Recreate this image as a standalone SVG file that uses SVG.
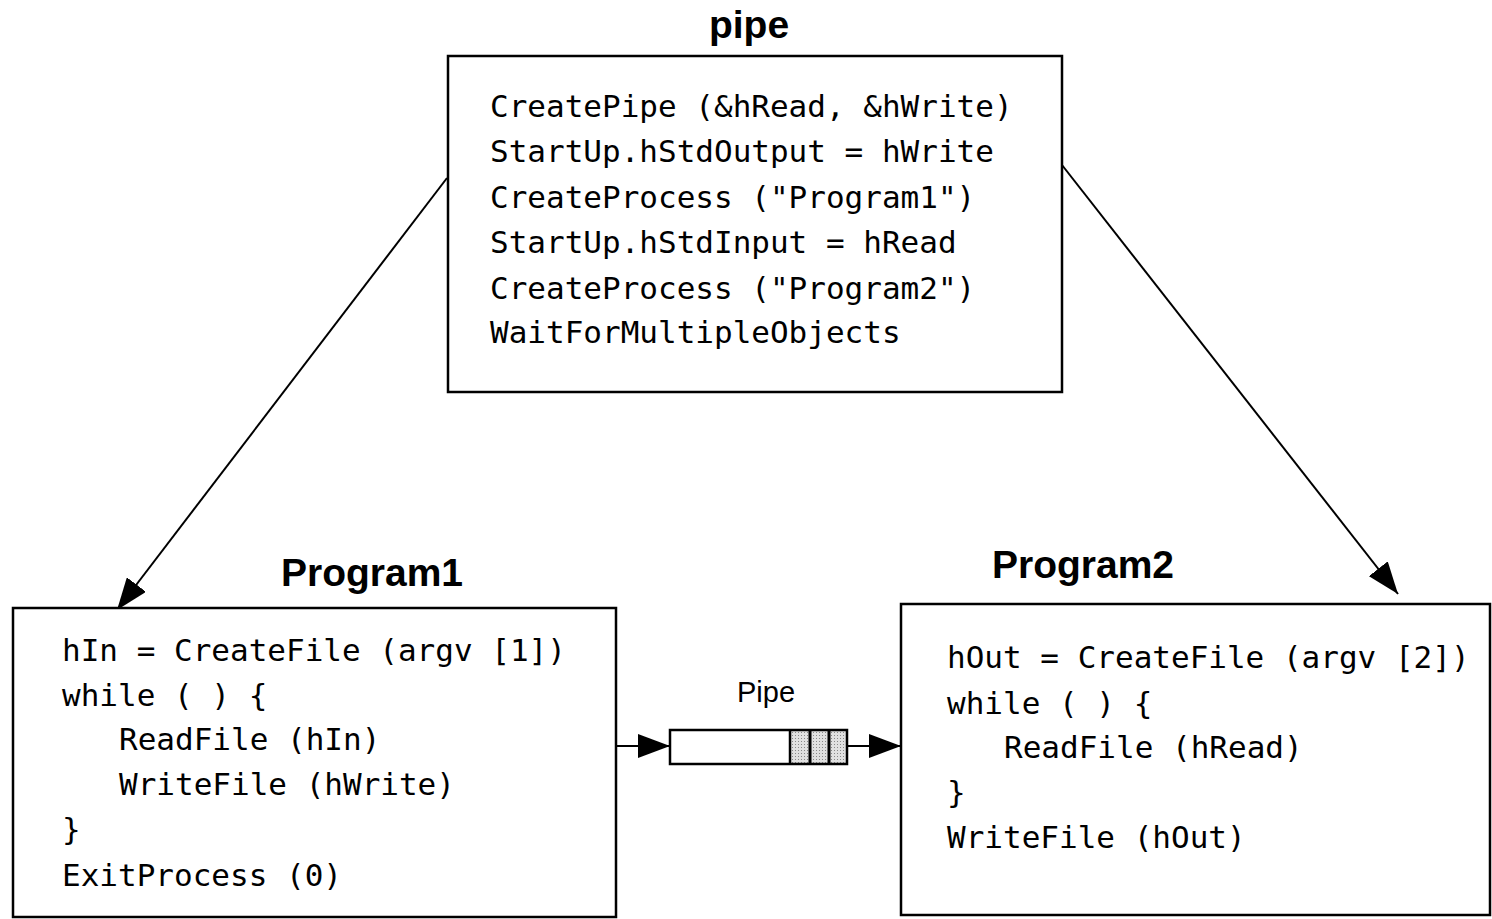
<svg xmlns="http://www.w3.org/2000/svg" width="1492" height="919" viewBox="0 0 1492 919">
<style>
.box{fill:#fff;stroke:#000;stroke-width:2.5}
.code{font-family:"DejaVu Sans Mono","Liberation Mono",monospace;font-size:31px;fill:#000;white-space:pre}
.title{font-family:"Liberation Sans",Arial,sans-serif;font-weight:bold;font-size:39px;fill:#000}
.lbl{font-family:"Liberation Sans",Arial,sans-serif;font-size:29px;fill:#000}
.conn{stroke:#000;stroke-width:2;fill:none}
</style>
<defs>
<marker id="ah" markerUnits="userSpaceOnUse" markerWidth="34" markerHeight="24" refX="32" refY="12" orient="auto">
<path d="M0,0 L32,12 L0,24 Z" fill="#000"/>
</marker>
<pattern id="dots" width="3" height="3" patternUnits="userSpaceOnUse">
<rect width="3" height="3" fill="#e0e0e0"/>
<rect width="1" height="1" fill="#888"/>
</pattern>
</defs>
<rect width="1492" height="919" fill="#fff"/>
<g id="connectors">
<line class="conn" x1="447" y1="178" x2="117" y2="610" marker-end="url(#ah)"/>
<line class="conn" x1="1062" y1="165" x2="1398" y2="594" marker-end="url(#ah)"/>
<line class="conn" x1="616" y1="746" x2="670" y2="746" marker-end="url(#ah)"/>
<line class="conn" x1="848" y1="746" x2="901" y2="746" marker-end="url(#ah)"/>
</g>
<g id="pipe-parent">
<text class="title" x="749" y="38" text-anchor="middle">pipe</text>
<rect class="box" x="448" y="56" width="614" height="336"/>
<text class="code" x="490" y="117">CreatePipe (&amp;hRead, &amp;hWrite)</text>
<text class="code" x="490" y="162">StartUp.hStdOutput = hWrite</text>
<text class="code" x="490" y="208">CreateProcess ("Program1")</text>
<text class="code" x="490" y="253">StartUp.hStdInput = hRead</text>
<text class="code" x="490" y="299">CreateProcess ("Program2")</text>
<text class="code" x="490" y="343">WaitForMultipleObjects</text>
</g>
<g id="program1">
<text class="title" x="372" y="586" text-anchor="middle">Program1</text>
<rect class="box" x="13" y="608" width="603" height="309"/>
<text class="code" x="62" y="661">hIn = CreateFile (argv [1])</text>
<text class="code" x="62" y="706">while ( ) {</text>
<text class="code" x="119" y="750">ReadFile (hIn)</text>
<text class="code" x="119" y="795">WriteFile (hWrite)</text>
<text class="code" x="62" y="840">}</text>
<text class="code" x="62" y="886">ExitProcess (0)</text>
</g>
<g id="program2">
<text class="title" x="1083" y="578" text-anchor="middle">Program2</text>
<rect class="box" x="901" y="604" width="589" height="311"/>
<text class="code" x="947" y="668">hOut = CreateFile (argv [2])</text>
<text class="code" x="947" y="714">while ( ) {</text>
<text class="code" x="1004" y="758">ReadFile (hRead)</text>
<text class="code" x="947" y="803">}</text>
<text class="code" x="947" y="848">WriteFile (hOut)</text>
</g>
<g id="pipe-buffer">
<text class="lbl" x="766" y="702" text-anchor="middle">Pipe</text>
<rect x="670" y="730" width="177" height="34" fill="#fff"/>
<rect x="790" y="730" width="57" height="34" fill="url(#dots)"/>
<rect x="670" y="730" width="177" height="34" style="fill:none;stroke:#000;stroke-width:2.5"/>
<line class="conn" x1="790" y1="730" x2="790" y2="764" style="stroke-width:2.5"/>
<line class="conn" x1="810" y1="730" x2="810" y2="764" style="stroke-width:3"/>
<line class="conn" x1="829" y1="730" x2="829" y2="764" style="stroke-width:3"/>
</g>
</svg>
